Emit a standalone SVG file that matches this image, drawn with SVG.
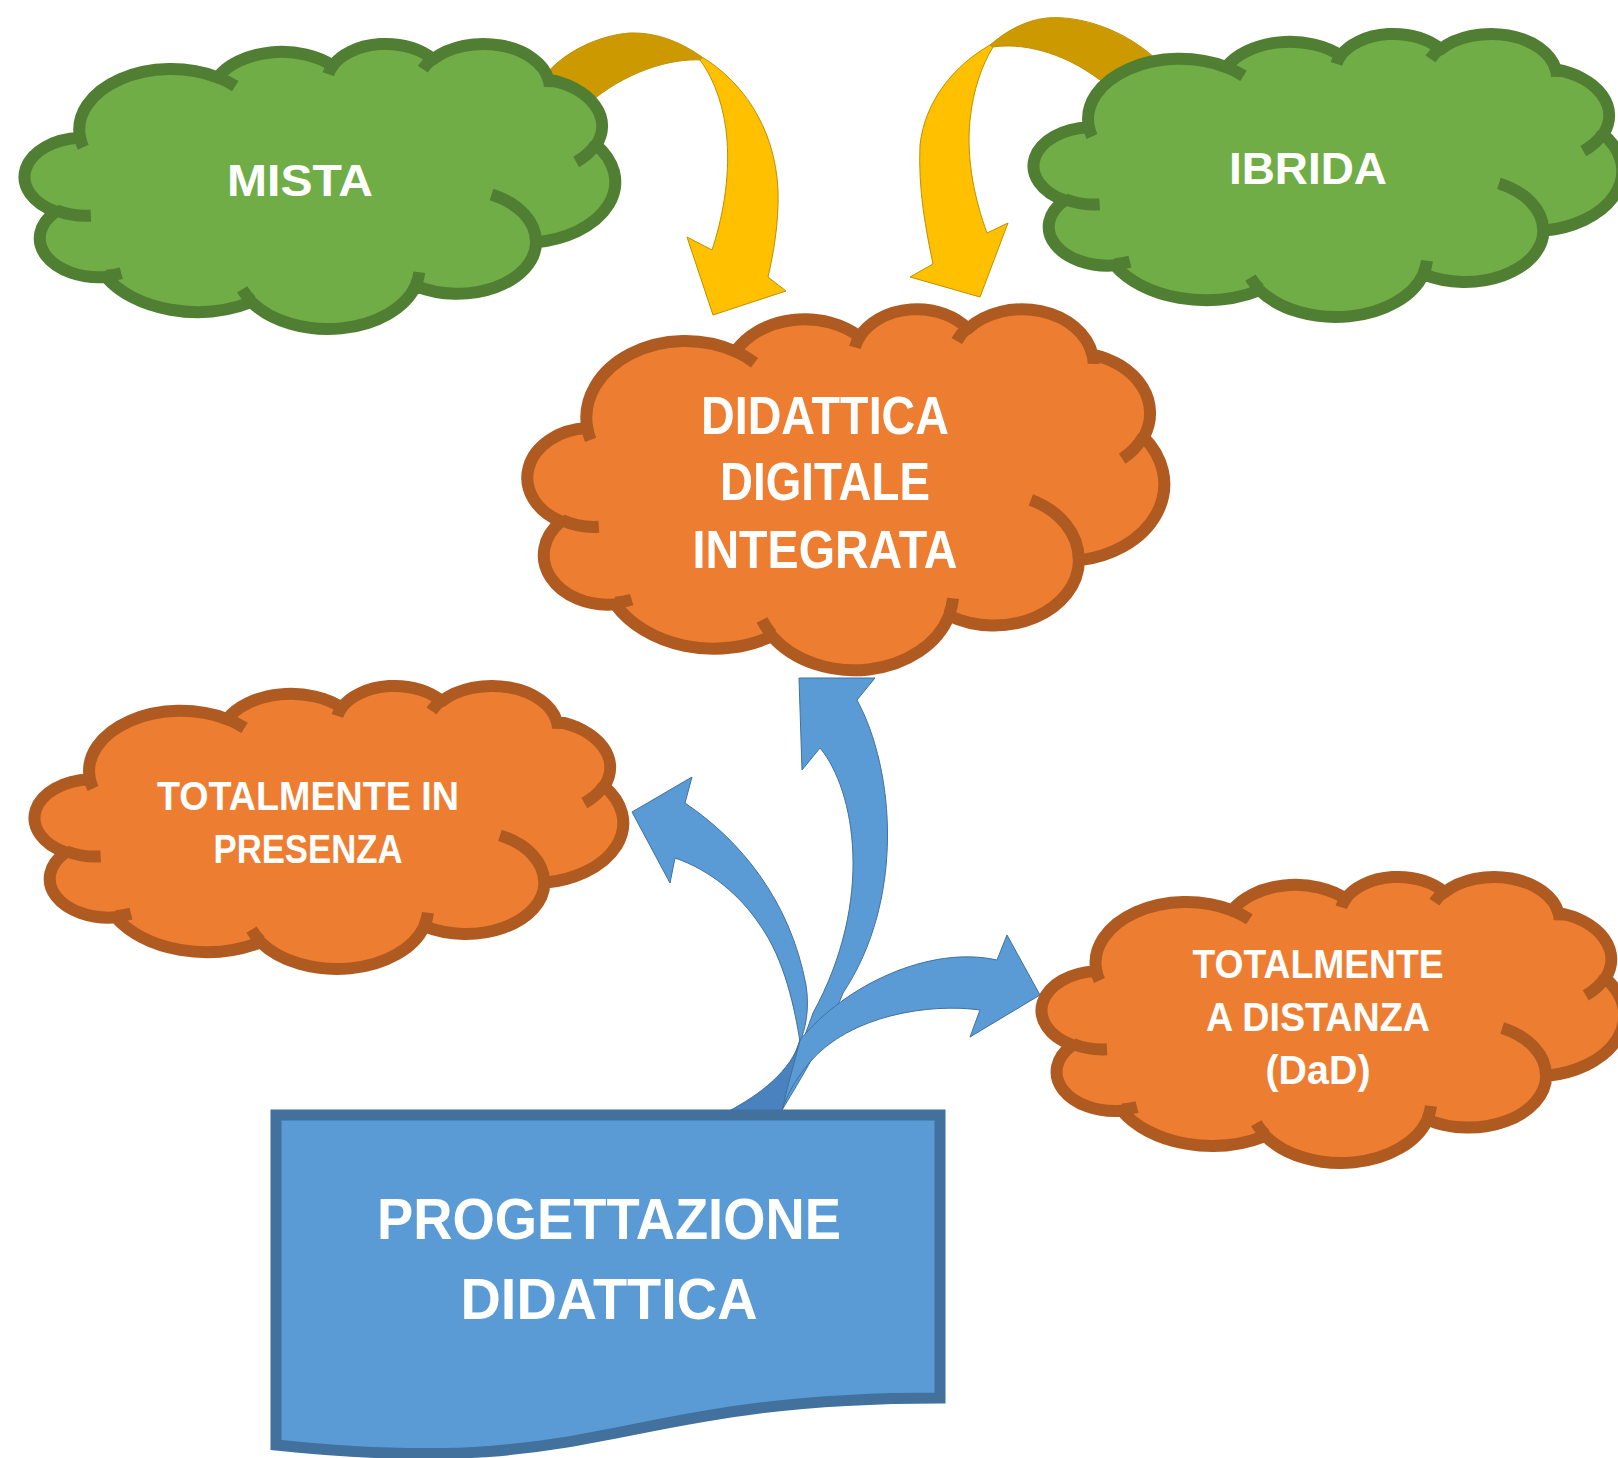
<svg xmlns="http://www.w3.org/2000/svg" width="1618" height="1458" viewBox="0 0 1618 1458">
<style>
.lbl{font-family:"Liberation Sans",Arial,sans-serif;font-weight:bold;fill:#ffffff;text-anchor:middle}
.co{stroke-width:12;stroke-linejoin:round}
.ci{fill:none;stroke-width:12}
.green .co{fill:#70AD47;stroke:#507E32}
.green .ci{stroke:#507E32}
.orange .co{fill:#ED7D31;stroke:#AE5A21}
.orange .ci{stroke:#AE5A21}
.yel{fill:#FFC000;stroke:#BF9000;stroke-width:1}
.yeldark{fill:#CC9A00;stroke:#BF9000;stroke-width:1}
.blue{fill:#5B9BD5;stroke:#41719C;stroke-width:1}
.bluedark{fill:#4A82BF;stroke:#41719C;stroke-width:1}
</style>
<rect width="1618" height="1458" fill="#ffffff"/>

<g id="connectors">
  <path class="yeldark" d="M540,82 C560,52 600,35 630,33 C660,32 685,45 702,57 L702,60 C670,58 625,72 588,104 Z"/>
  <path class="yel" d="M702,57 C740,80 775,125 778,190 C779,225 773,255 768,277 L786,291 L713,315 L687,237 L712,250 C722,220 730,180 727,140 C725,110 715,80 700,60 Z"/>
  <path class="yeldark" d="M1165,68 C1130,30 1080,15 1047,18 C1025,20 1005,32 990,45 L993,47 C1020,43 1060,50 1100,80 L1115,95 Z"/>
  <path class="yel" d="M990,45 C955,65 925,100 920,145 C918,190 926,230 933,264 L910,277 L980,297 L1008,223 L987,233 C975,200 966,160 970,120 C973,90 982,65 993,47 Z"/>
  <path class="blue" d="M799,678 L875,678 L857,700 C895,770 905,900 843,993 C825,1040 800,1080 782,1110 L770,1110 C785,1085 800,1050 813,1013 C875,900 855,790 820,748 L802,770 Z"/>
  <path class="blue" d="M632,812 L692,777 L685,803 C740,840 790,900 806,985 C810,1010 805,1030 800,1042 C795,1010 785,960 760,925 C740,895 710,870 675,858 L670,883 Z"/>
  <path class="blue" d="M1040,995 L970,1037 L980,1010 C930,1003 850,1015 810,1062 C795,1080 787,1095 782,1110 L775,1110 L800,1040 C845,985 930,945 997,960 L1007,935 Z"/>
  <path class="bluedark" d="M800,1040 C792,1070 760,1095 727,1112 L782,1112 C786,1090 794,1065 800,1040 Z"/>
</g>

<g id="node-mista" class="green">
  <g transform="translate(27,43) scale(1.3611,0.6597)">
    <path class="co" vector-effect="non-scaling-stroke" d="M39,143.7 A67.53,91.9 0 0 1 140.05,52.02 A53.33,72.67 0 0 1 224.57,34.31 A43.65,59.45 0 0 1 298.35,24.79 A48.57,65.95 0 0 1 383.2,55.74 A53.33,72.73 0 0 1 418.2,154.58 A67.75,92.2 0 0 1 374.06,302 A57.85,78.67 0 0 1 285.58,368.1 A67.52,92.15 0 0 1 164.83,392.64 A77.2,105.43 0 0 1 58.06,354.68 A43.6,59.18 0 0 1 21.13,255.48 A43.45,59.45 0 0 1 39,143.7 Z"/>
    <path class="ci" vector-effect="non-scaling-stroke" d="M46.93,261.77 A43.45,59.45 0 0 1 21.59,253.8 M69.28,348.99 A43.6,59.18 0 0 1 58.2,352.81 M164.78,390.9 A67.52,92.15 0 0 1 158.09,373.48 M288.27,347.51 A67.52,92.15 0 0 1 285.61,366.6 M341.29,229.54 A57.85,78.67 0 0 1 373.81,300.9 M417.98,153.54 A53.33,72.73 0 0 1 403.49,180.31 M383.24,54.26 A48.57,65.95 0 0 1 384,66.9 M290.78,39.52 A48.57,65.95 0 0 1 298.2,23.4 M221.41,47.2 A43.65,59.45 0 0 1 225,33.31 M140,51.92 A67.53,91.9 0 0 1 153.01,65.42 M41.27,157.89 A67.53,91.9 0 0 1 39,143.7"/>
  </g>
  <text class="lbl" x="300" y="196" font-size="45" textLength="146" lengthAdjust="spacingAndGlyphs">MISTA</text>
</g>

<g id="node-ibrida" class="green">
  <g transform="translate(1036,33) scale(1.3565,0.6551)">
    <path class="co" vector-effect="non-scaling-stroke" d="M39,143.7 A67.53,91.9 0 0 1 140.05,52.02 A53.33,72.67 0 0 1 224.57,34.31 A43.65,59.45 0 0 1 298.35,24.79 A48.57,65.95 0 0 1 383.2,55.74 A53.33,72.73 0 0 1 418.2,154.58 A67.75,92.2 0 0 1 374.06,302 A57.85,78.67 0 0 1 285.58,368.1 A67.52,92.15 0 0 1 164.83,392.64 A77.2,105.43 0 0 1 58.06,354.68 A43.6,59.18 0 0 1 21.13,255.48 A43.45,59.45 0 0 1 39,143.7 Z"/>
    <path class="ci" vector-effect="non-scaling-stroke" d="M46.93,261.77 A43.45,59.45 0 0 1 21.59,253.8 M69.28,348.99 A43.6,59.18 0 0 1 58.2,352.81 M164.78,390.9 A67.52,92.15 0 0 1 158.09,373.48 M288.27,347.51 A67.52,92.15 0 0 1 285.61,366.6 M341.29,229.54 A57.85,78.67 0 0 1 373.81,300.9 M417.98,153.54 A53.33,72.73 0 0 1 403.49,180.31 M383.24,54.26 A48.57,65.95 0 0 1 384,66.9 M290.78,39.52 A48.57,65.95 0 0 1 298.2,23.4 M221.41,47.2 A43.65,59.45 0 0 1 225,33.31 M140,51.92 A67.53,91.9 0 0 1 153.01,65.42 M41.27,157.89 A67.53,91.9 0 0 1 39,143.7"/>
  </g>
  <text class="lbl" x="1308" y="184" font-size="45" textLength="158" lengthAdjust="spacingAndGlyphs">IBRIDA</text>
</g>

<g id="node-ddi" class="orange">
  <g transform="translate(530,308) scale(1.4676,0.8356)">
    <path class="co" vector-effect="non-scaling-stroke" d="M39,143.7 A67.53,91.9 0 0 1 140.05,52.02 A53.33,72.67 0 0 1 224.57,34.31 A43.65,59.45 0 0 1 298.35,24.79 A48.57,65.95 0 0 1 383.2,55.74 A53.33,72.73 0 0 1 418.2,154.58 A67.75,92.2 0 0 1 374.06,302 A57.85,78.67 0 0 1 285.58,368.1 A67.52,92.15 0 0 1 164.83,392.64 A77.2,105.43 0 0 1 58.06,354.68 A43.6,59.18 0 0 1 21.13,255.48 A43.45,59.45 0 0 1 39,143.7 Z"/>
    <path class="ci" vector-effect="non-scaling-stroke" d="M46.93,261.77 A43.45,59.45 0 0 1 21.59,253.8 M69.28,348.99 A43.6,59.18 0 0 1 58.2,352.81 M164.78,390.9 A67.52,92.15 0 0 1 158.09,373.48 M288.27,347.51 A67.52,92.15 0 0 1 285.61,366.6 M341.29,229.54 A57.85,78.67 0 0 1 373.81,300.9 M417.98,153.54 A53.33,72.73 0 0 1 403.49,180.31 M383.24,54.26 A48.57,65.95 0 0 1 384,66.9 M290.78,39.52 A48.57,65.95 0 0 1 298.2,23.4 M221.41,47.2 A43.65,59.45 0 0 1 225,33.31 M140,51.92 A67.53,91.9 0 0 1 153.01,65.42 M41.27,157.89 A67.53,91.9 0 0 1 39,143.7"/>
  </g>
  <text class="lbl" x="825" y="434" font-size="53" textLength="248" lengthAdjust="spacingAndGlyphs">DIDATTICA</text>
  <text class="lbl" x="825" y="500" font-size="53" textLength="210" lengthAdjust="spacingAndGlyphs">DIGITALE</text>
  <text class="lbl" x="825" y="568" font-size="53" textLength="265" lengthAdjust="spacingAndGlyphs">INTEGRATA</text>
</g>

<g id="node-presenza" class="orange">
  <g transform="translate(37,685) scale(1.3565,0.6551)">
    <path class="co" vector-effect="non-scaling-stroke" d="M39,143.7 A67.53,91.9 0 0 1 140.05,52.02 A53.33,72.67 0 0 1 224.57,34.31 A43.65,59.45 0 0 1 298.35,24.79 A48.57,65.95 0 0 1 383.2,55.74 A53.33,72.73 0 0 1 418.2,154.58 A67.75,92.2 0 0 1 374.06,302 A57.85,78.67 0 0 1 285.58,368.1 A67.52,92.15 0 0 1 164.83,392.64 A77.2,105.43 0 0 1 58.06,354.68 A43.6,59.18 0 0 1 21.13,255.48 A43.45,59.45 0 0 1 39,143.7 Z"/>
    <path class="ci" vector-effect="non-scaling-stroke" d="M46.93,261.77 A43.45,59.45 0 0 1 21.59,253.8 M69.28,348.99 A43.6,59.18 0 0 1 58.2,352.81 M164.78,390.9 A67.52,92.15 0 0 1 158.09,373.48 M288.27,347.51 A67.52,92.15 0 0 1 285.61,366.6 M341.29,229.54 A57.85,78.67 0 0 1 373.81,300.9 M417.98,153.54 A53.33,72.73 0 0 1 403.49,180.31 M383.24,54.26 A48.57,65.95 0 0 1 384,66.9 M290.78,39.52 A48.57,65.95 0 0 1 298.2,23.4 M221.41,47.2 A43.65,59.45 0 0 1 225,33.31 M140,51.92 A67.53,91.9 0 0 1 153.01,65.42 M41.27,157.89 A67.53,91.9 0 0 1 39,143.7"/>
  </g>
  <text class="lbl" x="308" y="810" font-size="41" textLength="302" lengthAdjust="spacingAndGlyphs">TOTALMENTE IN</text>
  <text class="lbl" x="308" y="863" font-size="41" textLength="189" lengthAdjust="spacingAndGlyphs">PRESENZA</text>
</g>

<g id="node-distanza" class="orange">
  <g transform="translate(1044,876) scale(1.3426,0.6620)">
    <path class="co" vector-effect="non-scaling-stroke" d="M39,143.7 A67.53,91.9 0 0 1 140.05,52.02 A53.33,72.67 0 0 1 224.57,34.31 A43.65,59.45 0 0 1 298.35,24.79 A48.57,65.95 0 0 1 383.2,55.74 A53.33,72.73 0 0 1 418.2,154.58 A67.75,92.2 0 0 1 374.06,302 A57.85,78.67 0 0 1 285.58,368.1 A67.52,92.15 0 0 1 164.83,392.64 A77.2,105.43 0 0 1 58.06,354.68 A43.6,59.18 0 0 1 21.13,255.48 A43.45,59.45 0 0 1 39,143.7 Z"/>
    <path class="ci" vector-effect="non-scaling-stroke" d="M46.93,261.77 A43.45,59.45 0 0 1 21.59,253.8 M69.28,348.99 A43.6,59.18 0 0 1 58.2,352.81 M164.78,390.9 A67.52,92.15 0 0 1 158.09,373.48 M288.27,347.51 A67.52,92.15 0 0 1 285.61,366.6 M341.29,229.54 A57.85,78.67 0 0 1 373.81,300.9 M417.98,153.54 A53.33,72.73 0 0 1 403.49,180.31 M383.24,54.26 A48.57,65.95 0 0 1 384,66.9 M290.78,39.52 A48.57,65.95 0 0 1 298.2,23.4 M221.41,47.2 A43.65,59.45 0 0 1 225,33.31 M140,51.92 A67.53,91.9 0 0 1 153.01,65.42 M41.27,157.89 A67.53,91.9 0 0 1 39,143.7"/>
  </g>
  <text class="lbl" x="1318" y="978" font-size="41" textLength="251" lengthAdjust="spacingAndGlyphs">TOTALMENTE</text>
  <text class="lbl" x="1318" y="1031" font-size="41" textLength="224" lengthAdjust="spacingAndGlyphs">A DISTANZA</text>
  <text class="lbl" x="1318" y="1084" font-size="41" textLength="105" lengthAdjust="spacingAndGlyphs">(DaD)</text>
</g>

<g id="node-progettazione">
  <path d="M276,1115 L940,1115 L940,1398 C608,1398 608,1480 276,1445 Z" fill="#5B9BD5" stroke="#41719C" stroke-width="11" stroke-linejoin="miter"/>
  <text class="lbl" x="609" y="1239" font-size="57" textLength="464" lengthAdjust="spacingAndGlyphs">PROGETTAZIONE</text>
  <text class="lbl" x="609" y="1319" font-size="57" textLength="297" lengthAdjust="spacingAndGlyphs">DIDATTICA</text>
</g>
</svg>
